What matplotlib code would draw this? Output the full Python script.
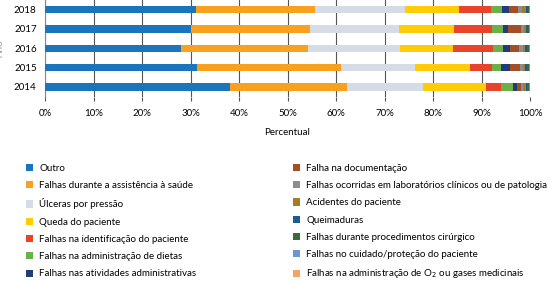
import numpy as np
import matplotlib
matplotlib.use('Agg')
import matplotlib.pyplot as plt
from matplotlib.patches import Patch

plt.rcParams['font.family'] = ['Lato', 'DejaVu Sans']

years = ['2014', '2015', '2016', '2017', '2018']

categories = [
    'Outro',
    'Falhas durante a assistência à saúde',
    'Úlceras por pressão',
    'Queda do paciente',
    'Falhas na identificação do paciente',
    'Falhas na administração de dietas',
    'Falhas nas atividades administrativas',
    'Falha na documentação',
    'Falhas ocorridas em laboratórios clínicos ou de patologia',
    'Acidentes do paciente',
    'Queimaduras',
    'Falhas durante procedimentos cirúrgico',
    'Falhas no cuidado/proteção do paciente',
    'Falhas na administração de O$_2$ ou gases medicinais',
]

colors = ['#1b75bc', '#f7a11e', '#d5dce6', '#ffcc05', '#e8432b', '#6cb04a',
          '#1f3e78', '#a14f26', '#8d8d8d', '#a27d2c', '#1c5c8e', '#3b6b3a',
          '#6f95d0', '#f4a466']

# percent per year, order: 2014, 2015, 2016, 2017, 2018
outro          = [38.1, 31.3, 28.0, 30.0, 31.1]
assistencia    = [24.2, 29.7, 26.2, 24.6, 24.6]
ulceras        = [15.6, 15.3, 19.0, 18.4, 18.5]
queda          = [13.0, 11.3, 11.0, 11.3, 11.2]
identificacao  = [3.1, 4.5, 8.2, 7.9, 6.5]
dietas         = [2.4, 1.9, 2.0, 2.2, 2.3]
administrativas = [0.9, 1.9, 1.5, 1.0, 1.5]
documentacao   = [0.8, 2.0, 1.9, 2.7, 1.9]
laboratorios   = [0.5, 0.6, 0.7, 0.7, 0.7]
acidentes      = [0.6, 0.5, 0.5, 0.4, 0.9]
queimaduras    = [0.2, 0.3, 0.3, 0.3, 0.3]
cirurgico      = [0.4, 0.5, 0.5, 0.3, 0.3]
cuidado        = [0.1, 0.1, 0.1, 0.1, 0.1]
oxigenio       = [0.1, 0.1, 0.1, 0.1, 0.1]

series = [outro, assistencia, ulceras, queda, identificacao, dietas,
          administrativas, documentacao, laboratorios, acidentes,
          queimaduras, cirurgico, cuidado, oxigenio]

fig = plt.figure(figsize=(5.5, 2.83), dpi=100)
ax = fig.add_axes([45/550, 1 - 97/283, 485/550, 97/283])

y = np.arange(len(years))
left = np.zeros(len(years))
for vals, c in zip(series, colors):
    v = np.array(vals)
    ax.barh(y, v, left=left, height=0.37, color=c, zorder=3)
    left += v

ax.set_xlim(0, 100)
ax.set_ylim(-0.52, 4.5)
ax.set_xticks(np.arange(0, 101, 10))
ax.set_xticklabels([f'{t}%' for t in range(0, 101, 10)], fontsize=7)
ax.set_yticks(y)
ax.set_yticklabels(years, fontsize=7)
ax.grid(axis='x', color='#555555', lw=0.8, zorder=0)
for s in ['top', 'right', 'bottom']:
    ax.spines[s].set_visible(False)
ax.spines['left'].set_color('#888888')
ax.tick_params(axis='y', length=0, pad=6)
ax.tick_params(axis='x', length=3, color='#555555', pad=6)
ax.set_xlabel('Percentual', fontsize=7, labelpad=7)
# y label is mostly cut off at the left edge in the original
fig.text(0.0, 0.83, 'Ano', rotation=90, fontsize=7, color='#999999',
         va='center', ha='center')

handles = [Patch(facecolor=c) for c in colors]
leg_kw = dict(frameon=False, fontsize=7, handlelength=0.75, handleheight=0.75,
              handletextpad=0.6, labelspacing=0.85, borderaxespad=0)
fig.legend(handles[:7], categories[:7], loc='upper left',
           bbox_to_anchor=(22/550, 1 - 160/283), **leg_kw)
fig.legend(handles[7:], categories[7:], loc='upper left',
           bbox_to_anchor=(289/550, 1 - 160/283), **leg_kw)

fig.savefig('out.png', dpi=100)
